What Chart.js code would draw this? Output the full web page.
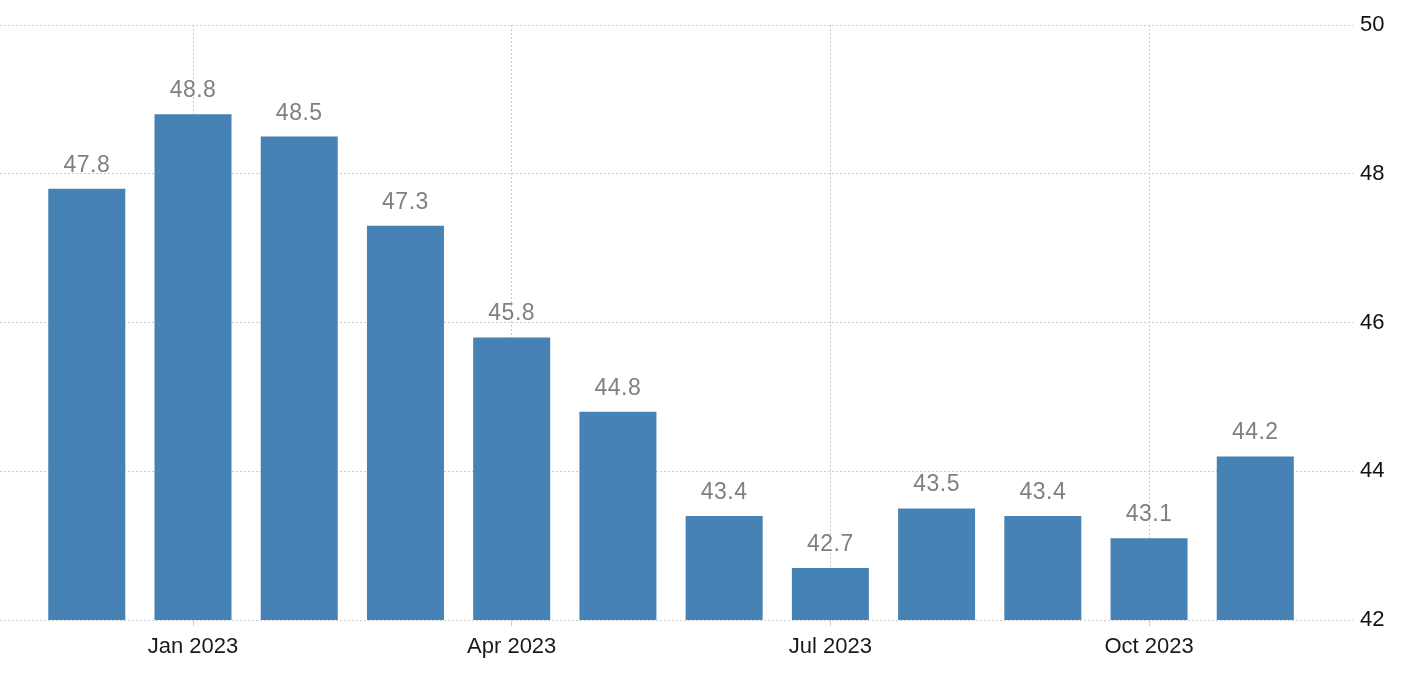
<!DOCTYPE html>
<html>
<head>
<meta charset="utf-8">
<script src="https://cdn.jsdelivr.net/npm/chart.js@4"></script>
<style>
  body { margin: 0; background: #fff; }
  #wrap { width: 1411px; height: 675px; position: relative; }
</style>
</head>
<body>
<div id="wrap"><canvas id="chart"></canvas></div>
<script>
// months Dec 2022 .. Nov 2023
const months = ["Dec 2022", "Jan 2023", "Feb 2023", "Mar 2023", "Apr 2023", "May 2023",
                "Jun 2023", "Jul 2023", "Aug 2023", "Sep 2023", "Oct 2023", "Nov 2023"];
const values = [47.8, 48.8, 48.5, 47.3, 45.8, 44.8, 43.4, 42.7, 43.5, 43.4, 43.1, 44.2];
const tickMonths = ["Jan 2023", "Apr 2023", "Jul 2023", "Oct 2023"];
const yTicks = [42, 44, 46, 48, 50];

const barColor = "#4682b4";
const gridColor = "#cccccc";

// value labels above each bar
const valueLabels = {
    id: "valueLabels",
    afterDatasetsDraw(chart) {
        const ctx = chart.ctx;
        const meta = chart.getDatasetMeta(0);
        ctx.save();
        ctx.font = "23px 'Liberation Sans'";
        ctx.fillStyle = "#808080";
        ctx.textAlign = "center";
        ctx.textBaseline = "alphabetic";
        ctx.letterSpacing = "0.5px";
        meta.data.forEach((bar, i) => {
            ctx.fillText(values[i].toFixed(1), bar.x, bar.y - 17);
        });
        ctx.restore();
    }
};

const ctx = document.getElementById("chart").getContext("2d");
const myChart = new Chart(ctx, {
    type: "bar",
    data: {
        datasets: [{
            label: "PMI",
            data: values.map((v, i) => ({ x: i, y: v })),
            backgroundColor: barColor,
            borderWidth: 0,
            barPercentage: 0.725,
            categoryPercentage: 1
        }]
    },
    options: {
        responsive: true,
        maintainAspectRatio: false,
        animation: false,
        layout: { padding: { top: 25, left: 0, right: 0, bottom: 0 } },
        plugins: {
            legend: { display: false },
            tooltip: { enabled: false }
        },
        scales: {
            x: {
                type: "linear",
                min: -0.817,
                max: 11.92,
                offset: false,
                bounds: "data",
                afterBuildTicks(scale) {
                    scale.ticks = tickMonths.map(m => ({ value: months.indexOf(m) }));
                },
                afterFit(scale) { scale.height = 55; },
                ticks: {
                    callback: (v) => months[v],
                    color: "#1a1a1a",
                    font: { family: "'Liberation Sans'", size: 22 },
                    padding: 8,
                    maxRotation: 0,
                    autoSkip: false
                },
                grid: {
                    offset: false,
                    color: gridColor,
                    tickLength: 6,
                    tickColor: gridColor
                },
                border: { display: false, dash: [2, 2] }
            },
            y: {
                position: "right",
                min: 42,
                max: 50,
                afterBuildTicks(scale) {
                    scale.ticks = yTicks.map(v => ({ value: v }));
                },
                afterFit(scale) { scale.width = 58; },
                ticks: {
                    color: "#111",
                    font: { family: "'Liberation Sans'", size: 22 },
                    padding: 7
                },
                grid: {
                    color: gridColor,
                    drawTicks: false
                },
                border: { display: false, dash: [2, 2] }
            }
        }
    },
    plugins: [valueLabels]
});
</script>
</body>
</html>
